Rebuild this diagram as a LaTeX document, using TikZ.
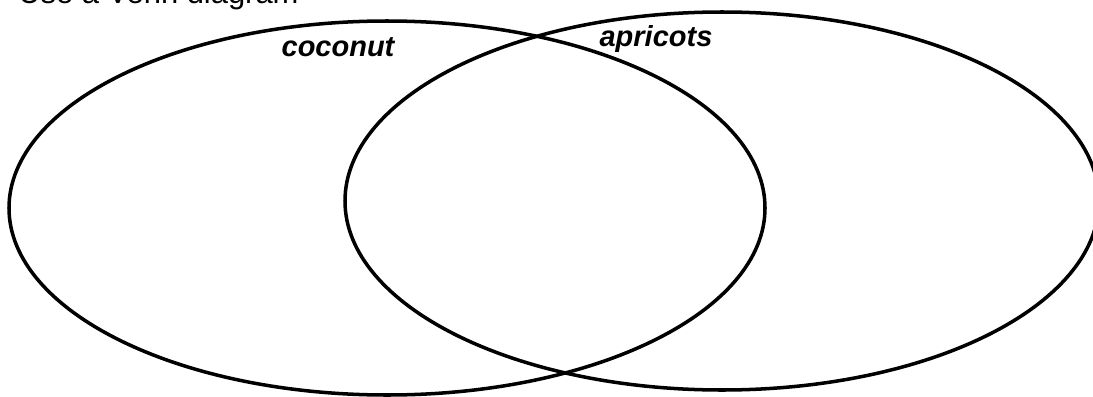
\documentclass[tikz,border=0pt]{standalone}
\usepackage{fontspec}
\newfontfamily\helvfont{Liberation Sans}
\usepackage{tikz}
\usetikzlibrary{positioning}
\tikzstyle{setline} = [line width=2pt, black]
\tikzstyle{setlabel} = [inner sep=0pt, font=\helvfont\bfseries\itshape\fontsize{16.5}{19}\selectfont]
\tikzstyle{prompt} = [inner sep=0pt, anchor=base west, font=\helvfont\fontsize{17.6}{21}\selectfont]

\begin{document}
\begin{tikzpicture}[x=0.02cm, y=-0.02cm]
  \useasboundingbox (0,0) rectangle (1093,396);
  \node[prompt] (task) at (18,3) {Use a Venn diagram};

  \coordinate (ccoconut) at (387,208);
  \coordinate (capricots) at (722,201);
  \draw[setline] (ccoconut) ellipse [x radius=378, y radius=187];
  \draw[setline] (capricots) ellipse [x radius=377, y radius=189];

  \node[setlabel] (coconut) at (338,47) {coconut};
  \node[setlabel] (apricots) at (656,39) {apricots};
\end{tikzpicture}
\end{document}
